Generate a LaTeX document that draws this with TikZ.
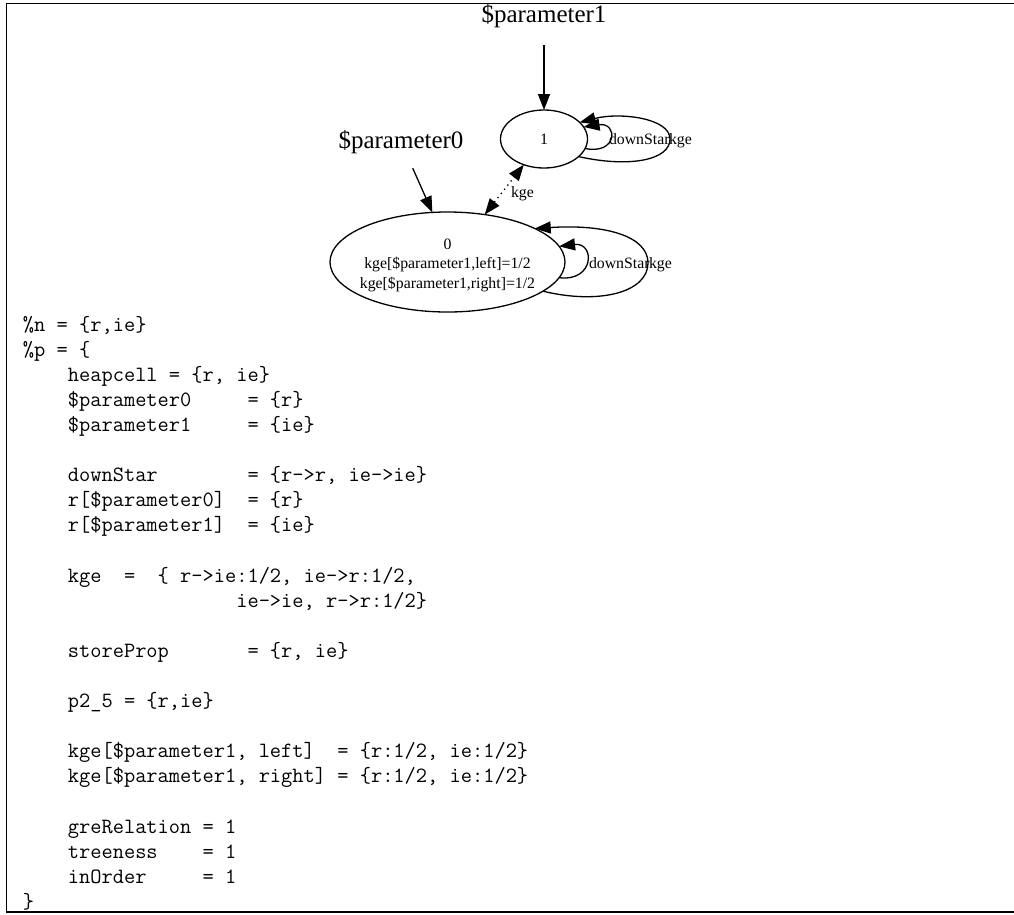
\documentclass[tikz,border=0pt]{standalone}
\usepackage{fontspec}
\setmainfont{Liberation Serif}
\usetikzlibrary{arrows.meta,shapes.geometric}
\newcommand\nodelines[1]{\raisebox{-3pt}[\height][\depth]{\makebox[0pt]{\begin{tabular}{@{}c@{}}#1\end{tabular}}}}
\frenchspacing
\begin{document}
\begin{tikzpicture}[x=1pt,y=-1pt,
  every node/.style={inner sep=0pt, outer sep=0pt},
  state/.style={draw, ellipse, line width=1.3pt, font=\fontsize{15.8}{19.5}\selectfont},
  param/.style={font=\fontsize{25}{30}\selectfont, minimum width=130pt},
  lbl/.style={font=\fontsize{15.8}{19}\selectfont, anchor=base west},
  code/.style={font=\fontsize{21.8}{25}\selectfont\ttfamily, anchor=base west},
  arr/.style={line width=1.3pt, -{Triangle[length=16pt,width=12pt]}},
  ]
\useasboundingbox (0,0) rectangle (1014,914);
\draw[line width=1.3pt] (1014,3.5) -- (6.5,3.5) -- (6.5,912) -- (1014,912);

% graph nodes
\node[state, minimum width=87pt, minimum height=58pt] (n1) at (544,139) {1};
\node[state, minimum width=235pt, minimum height=100pt] (n0) at (447.5,262)
  {\nodelines{0\\kge[\$parameter1,left]=1/2\\kge[\$parameter1,right]=1/2}};
\node[param, minimum height=58pt] (p1) at (544,16) {\$parameter1};
\node[param, minimum height=53pt] (p0) at (401,141.7) {\$parameter0};

% edges
\draw[arr] (p1) -- (n1);
\draw[arr] (p0) -- (n0.107);
\draw[line width=1.3pt, dash pattern=on 1.3pt off 4pt, {Triangle[length=16pt,width=12pt]}-{Triangle[length=16pt,width=12pt]}] (n0) -- (n1);
\node[lbl] (lk) at (511,197) {kge};

% loops on node 1
\draw[arr] (n1.-13) .. controls (618,155) and (618,122) .. (n1.17);
\draw[arr] (n1.-27) .. controls (630,168) and (670,160) .. (670,139) .. controls (670,118) and (620,112) .. (n1.25);
\node[lbl] (ld1) at (609,144) {downStar};
\node[lbl] (lk1) at (669,144) {kge};

% loops on node 0
\draw[arr] (n0.-8) .. controls (595,282) and (595,242) .. (n0.8);
\draw[arr] (n0.-17) .. controls (600,305) and (648,292) .. (648,263) .. controls (648,236) and (605,224) .. (n0.21);
\node[lbl] (ld0) at (589,268) {downStar};
\node[lbl] (lk0) at (649,268) {kge};

% code listing
\node[code] (c0) at (23,331.0) {\%n = \{r,ie\}};
\node[code] (c1) at (23,356.1) {\%p = \{};
\node[code] (c2) at (23,381.2) {\ \ \ \ heapcell = \{r, ie\}};
\node[code] (c3) at (23,406.3) {\ \ \ \ \$parameter0\ \ \ \ \ = \{r\}};
\node[code] (c4) at (23,431.4) {\ \ \ \ \$parameter1\ \ \ \ \ = \{ie\}};
\node[code] (c6) at (23,481.6) {\ \ \ \ downStar\ \ \ \ \ \ \ \ = \{r->r, ie->ie\}};
\node[code] (c7) at (23,506.7) {\ \ \ \ r[\$parameter0]\ \ = \{r\}};
\node[code] (c8) at (23,531.8) {\ \ \ \ r[\$parameter1]\ \ = \{ie\}};
\node[code] (c10) at (23,582.0) {\ \ \ \ kge\ \ =\ \ \{ r->ie:1/2, ie->r:1/2,};
\node[code] (c11) at (23,607.1) {\ \ \ \ \ \ \ \ \ \ \ \ \ \ \ \ \ \ \ ie->ie, r->r:1/2\}};
\node[code] (c13) at (23,657.3) {\ \ \ \ storeProp\ \ \ \ \ \ \ = \{r, ie\}};
\node[code] (c15) at (23,707.5) {\ \ \ \ p2\_5 = \{r,ie\}};
\node[code] (c17) at (23,757.7) {\ \ \ \ kge[\$parameter1, left]\ \ = \{r:1/2, ie:1/2\}};
\node[code] (c18) at (23,782.8) {\ \ \ \ kge[\$parameter1, right] = \{r:1/2, ie:1/2\}};
\node[code] (c20) at (23,833.0) {\ \ \ \ greRelation = 1};
\node[code] (c21) at (23,858.1) {\ \ \ \ treeness\ \ \ \ = 1};
\node[code] (c22) at (23,883.2) {\ \ \ \ inOrder\ \ \ \ \ = 1};
\node[code] (c23) at (23,908.3) {\}};
\end{tikzpicture}
\end{document}
